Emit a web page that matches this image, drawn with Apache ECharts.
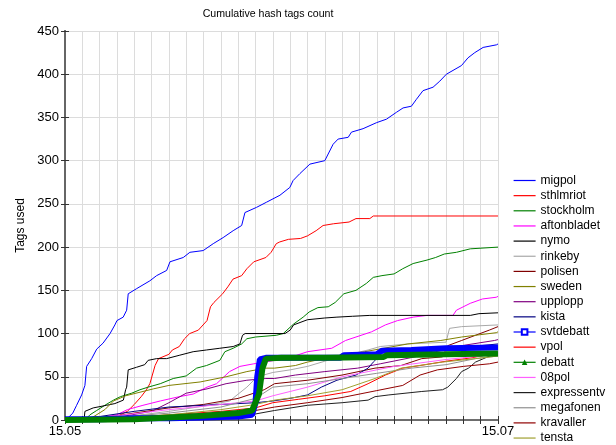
<!DOCTYPE html>
<html><head><meta charset="utf-8">
<script src="https://cdn.jsdelivr.net/npm/echarts@6/dist/echarts.min.js"></script>
<style>html,body{margin:0;padding:0;background:#fff}#c{width:616px;height:445px}</style>
</head><body><div id="c"></div>
<script>
// x = position in grid steps between 15.05 (0) and 15.07 (25)
const xTickLabels = ['15.05', '15.07'];
const seriesNames = ['migpol','sthlmriot','stockholm','aftonbladet','nymo','rinkeby','polisen','sweden','upplopp','kista','svtdebatt','vpol','debatt','08pol','expressentv','megafonen','kravaller','tensta'];
const seriesColors = ['#0000ff','#ff0000','#008000','#ff00ff','#000000','#a8a8a8','#800000','#808000','#800080','#000080','#0000ff','#ff0000','#008000','#ff60ff','#202020','#909090','#900000','#a0a030'];

const migpol = [[0,0],[0.2,3],[0.45,8],[0.67,17],[0.96,29],[1.15,40],[1.25,62],[1.54,71],[1.83,82],[2.2,89],[2.6,100],[2.88,110],[3.0,115],[3.36,119],[3.56,127],[3.65,146],[4.14,152],[4.9,161],[5.29,167],[5.87,173],[6.06,183],[6.83,188],[7.21,194],[7.98,196],[8.56,204],[9.13,211],[9.71,219],[10.2,225],[10.39,240],[11.06,246],[11.64,252],[12.41,260],[12.98,269],[13.17,277],[13.56,285],[14.14,296],[15.0,300],[15.48,319],[15.77,325],[16.35,327],[16.54,333],[17.21,337],[17.99,344],[18.56,348],[19.14,356],[19.52,361],[20.0,363],[20.29,371],[20.67,381],[21.25,385],[21.64,392],[22.02,400],[22.89,410],[23.27,419],[23.66,425],[24.14,431],[24.91,434],[25,435]];
const sthlmriot = [[0,0],[2,1],[3,4],[3.6,10],[4.0,18],[4.4,27],[4.7,35],[4.9,42],[5.2,63],[5.4,71],[6.0,76],[6.2,81],[6.6,85],[6.9,94],[7.2,100],[7.7,104],[8.2,115],[8.4,131],[8.6,136],[9.1,146],[9.4,154],[9.7,163],[10.2,167],[10.5,175],[10.9,183],[11.6,188],[11.9,194],[12.2,204],[12.4,206],[12.9,209],[13.6,210],[14.0,213],[14.5,219],[14.9,225],[15.5,227],[16.4,229],[16.8,233],[17.6,233],[17.8,236],[25,236]];
const stockholm = [[0,0],[1.2,1],[1.44,6],[1.83,11],[2.3,17],[2.8,23],[3.2,27],[3.85,31],[4.33,35],[4.8,38],[5.5,42],[6.25,48],[7.0,51],[7.6,60],[8.17,63],[8.94,69],[9.23,79],[9.71,83],[10.2,88],[10.5,94],[11,96],[12.2,98],[12.6,100],[13.2,111],[13.75,119],[14.1,125],[14.6,130],[15.2,131],[15.6,136],[16.1,146],[16.8,150],[17.4,158],[17.8,165],[18.3,167],[19,169],[19.5,175],[20.1,181],[20.9,185],[21.4,188],[21.9,192],[22.6,194],[23.4,198],[25,200]];
const aftonbladet = [[0,0],[1,1],[2,3],[3,6],[3.6,12],[4.5,17],[5.5,22],[6.6,27],[7.4,30],[8.2,38],[8.75,42],[9.5,56],[10.1,62],[10.9,65],[11.25,66],[12.1,69],[13.1,73],[14,79],[15.4,83],[16.2,92],[16.8,96],[17.7,102],[18.5,110],[19.2,115],[20.1,119],[20.9,121],[22.4,121],[22.6,127],[23.4,135],[24.1,140],[24.9,142],[25,143]];
const nymo = [[0,0],[1.1,0],[1.15,10],[1.63,14],[2.4,17],[2.88,19],[3.37,23],[3.5,35],[3.56,38],[3.65,58],[4.13,61],[4.6,64],[4.8,69],[5.29,71],[5.87,71],[6.63,75],[7.4,79],[8.17,81],[8.94,83],[9.71,85],[10.1,88],[10.25,98],[10.4,100],[12.7,100],[13,104],[13.2,110],[14,116],[15,118],[15.7,119],[16.6,120],[17.6,121],[23.4,121],[23.9,123],[25,124]];
const rinkeby = [[0,0],[2,2],[4,5],[6,10],[8,16],[9.5,22],[10.5,38],[11.1,50],[12,55],[13,58],[14,62],[15,68],[16,74],[17.5,81],[18.2,85],[19.8,88],[22,90],[22.2,106],[22.9,108],[25,110]];
const polisen = [[0,0],[2,2],[4,8],[6,14],[8,18],[10,25],[11.5,35],[12.1,42],[14,46],[16,52],[17.9,60],[19.4,63],[20.6,71],[21.8,73],[22.1,86],[22.9,92],[23.7,98],[24.5,104],[25,108]];
const sweden = [[0,0],[1.5,2],[2.3,12],[2.8,22],[3.5,28],[5.1,36],[6,40],[7.8,44],[9.3,50],[10.5,56],[11.6,60],[12.1,60],[13.3,63],[14,67],[15.4,73],[17.3,79],[19.8,88],[21.7,92],[22.9,96],[24.9,101],[25,102]];
const upplopp = [[0,0],[3,3],[5,10],[6,20],[7,31],[8.2,36],[9.3,42],[10.5,46],[11.6,48],[12.1,48],[13.3,52],[15,56],[16.9,60],[18.2,65],[20.2,73],[21.4,79],[22.9,86],[24.8,92],[25,93]];
const kista = [[0,0],[2,4],[4,10],[6,15],[9,18],[11,20],[12,22],[13,25],[14,29],[14.8,38],[15.7,46],[16.8,52],[17.5,60],[17.8,67],[18.1,73],[18.6,77],[20,80],[22,83],[24,86],[25,88]];
const svtdebatt = [[0,1],[2,1],[4,2],[6,2],[8,3],[10,4],[10.8,6],[11.0,20],[11.1,50],[11.25,70],[11.6,72],[13,72],[15.9,72],[16.1,75],[18.0,76],[18.3,80],[20,81],[22,83],[25,84]];
const vpol = [[0,0],[3,2],[6,6],[9,10],[11,14],[12,20],[13.5,24],[15,28],[16.5,33],[17.5,42],[18.5,52],[19.5,60],[20.5,63],[22,68],[23.5,72],[24.5,76],[25,78]];
const debatt = [[0,0],[4,1],[6,3],[8,5],[10,8],[10.8,11],[11.2,30],[11.4,60],[11.6,71],[12.5,72],[15,72],[18.4,73],[18.6,75],[22,76],[25,77]];
const pol08 = [[0,0],[3,5],[6,12],[9,18],[11,22],[12,28],[14,38],[16,50],[17.5,56],[19,62],[20.5,66],[22,70],[24,74],[25,78]];
const expressentv = [[0,0],[6,0],[8,2],[10,4],[11,7],[12.1,11],[14,17],[16,20],[17.5,23],[17.9,27],[18.7,29],[20.6,33],[21.8,35],[22.1,38],[22.6,48],[22.9,56],[23.3,60],[23.7,67],[24.4,73],[25,77]];
const megafonen = [[0,0],[3,3],[6,8],[9,15],[11,25],[12,38],[14,42],[16,48],[18,54],[20,60],[22,64],[23.7,71],[25,74]];
const kravaller = [[0,0],[3,1],[6,4],[9,8],[11,11],[12.1,15],[14,20],[16,26],[18,34],[19.5,40],[20.5,52],[21.5,58],[23,62],[24.5,65],[25,67]];
const tensta = [[0,0],[3,2],[6,6],[9,12],[11,18],[12.1,23],[14,28],[16,35],[17.9,48],[19.4,60],[21.8,67],[23.7,71],[25,74]];

const allData = [migpol,sthlmriot,stockholm,aftonbladet,nymo,rinkeby,polisen,sweden,upplopp,kista,svtdebatt,vpol,debatt,pol08,expressentv,megafonen,kravaller,tensta];

const FONT = 'Liberation Sans, Arial, sans-serif';
const markerSeries = {svtdebatt: 'emptyRect', debatt: 'triangle'};
const series = seriesNames.map((n, i) => {
  const s = {
    name: n, type: 'line', data: allData[i], animation: false,
    symbol: 'none', showSymbol: false,
    lineStyle: {color: seriesColors[i], width: 1},
    itemStyle: {color: seriesColors[i]},
    z: 2
  };
  if (markerSeries[n]) {
    s.symbol = markerSeries[n]; s.symbolSize = 5;
    s.lineStyle.width = 6;
    s.z = n === 'debatt' ? 4 : 3;
  }
  return s;
});

function legendItem(n) {
  const it = {name: n, lineStyle: {width: 1.2}};
  if (!markerSeries[n]) it.itemStyle = {opacity: 0};
  else if (n === 'svtdebatt') it.itemStyle = {borderWidth: 1.5};
  return it;
}
const ROW = 15.15;
const legendBase = {
  orient: 'vertical', left: 513, itemWidth: 22, itemHeight: 7, itemGap: 3.15,
  textStyle: {fontFamily: FONT, fontSize: 12, color: '#000', lineHeight: 12},
  selectedMode: false, padding: 0
};
const legendGroups = [[0, 6], [6, 12], [12, 18]];

const axisLineStyle = {color: '#666', width: 1.5};
const chart = echarts.init(document.getElementById('c'), null, {renderer: 'canvas'});
chart.setOption({
  backgroundColor: '#fff',
  animation: false,
  title: {text: 'Cumulative hash tags count', left: 263, top: 4, textAlign: 'center',
    textStyle: {fontFamily: FONT, fontSize: 10.6, fontWeight: 'normal', color: '#000'}},
  legend: legendGroups.map(([a, b]) => Object.assign({}, legendBase,
    {top: 174.5 + a * ROW, data: seriesNames.slice(a, b).map(legendItem)})),
  grid: {left: 65, right: 118, top: 31, bottom: 25, containLabel: false},
  xAxis: [{
    type: 'value', min: 0, max: 25, interval: 1, position: 'bottom',
    axisLine: {show: true, lineStyle: axisLineStyle},
    axisTick: {show: true, inside: true, length: 4, lineStyle: {color: '#333'}},
    splitLine: {show: true, lineStyle: {color: '#dcdcdc', width: 1}},
    axisLabel: {fontFamily: FONT, fontSize: 13, color: '#000', margin: 5,
      formatter: (v) => v === 0 ? xTickLabels[0] : (v === 25 ? xTickLabels[1] : '')}
  }, {
    type: 'value', min: 0, max: 25, interval: 1, position: 'top',
    axisLine: {show: true, lineStyle: axisLineStyle},
    axisTick: {show: true, inside: true, length: 4, lineStyle: {color: '#333'}},
    splitLine: {show: false}, axisLabel: {show: false}
  }],
  yAxis: [{
    type: 'value', min: 0, max: 450, interval: 50, position: 'left',
    name: 'Tags used', nameLocation: 'middle', nameGap: 33,
    nameTextStyle: {fontFamily: FONT, fontSize: 12, color: '#000'},
    axisLine: {show: true, lineStyle: {color: '#666', width: 2}},
    axisTick: {show: true, inside: true, length: 4, lineStyle: {color: '#333'}},
    splitLine: {show: true, lineStyle: {color: '#dcdcdc', width: 1}},
    axisLabel: {fontFamily: FONT, fontSize: 13, color: '#000', margin: 6}
  }, {
    type: 'value', min: 0, max: 450, interval: 50, position: 'right',
    axisLine: {show: true, lineStyle: {color: '#666', width: 2}},
    axisTick: {show: true, inside: true, length: 4, lineStyle: {color: '#333'}},
    splitLine: {show: false}, axisLabel: {show: false}
  }],
  series: series
});
</script></body></html>
